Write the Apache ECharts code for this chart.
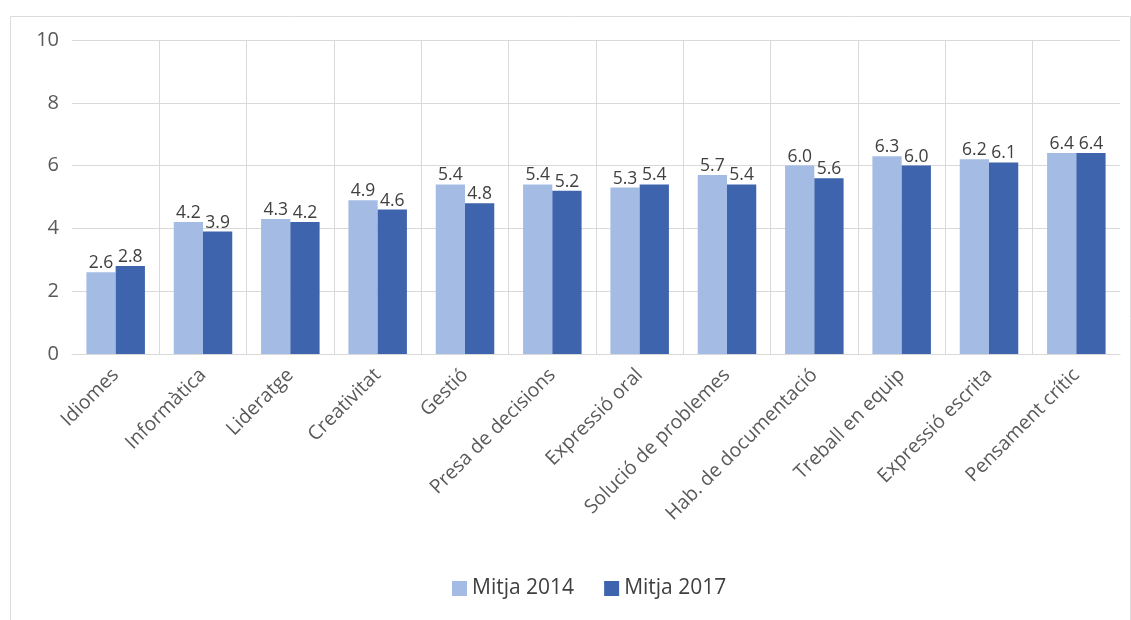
<!DOCTYPE html>
<html>
<head>
<meta charset="utf-8">
<script src="https://cdn.jsdelivr.net/npm/echarts@6/dist/echarts.min.js"></script>
<style>
html,body{margin:0;padding:0;background:#fff;}
#chart{width:1131px;height:620px;}
</style>
</head>
<body>
<div id="chart"></div>
<script>
const categories = ['Idiomes','Informàtica','Lideratge','Creativitat','Gestió','Presa de decisions','Expressió oral','Solució de problemes','Hab. de documentació','Treball en equip','Expressió escrita','Pensament crític'];
const mitja2014 = [2.6, 4.2, 4.3, 4.9, 5.4, 5.4, 5.3, 5.7, 6.0, 6.3, 6.2, 6.4];
const mitja2017 = [2.8, 3.9, 4.2, 4.6, 4.8, 5.2, 5.4, 5.4, 5.6, 6.0, 6.1, 6.4];
const seriesNames = ['Mitja 2014', 'Mitja 2017'];
const yTicks = {min: 0, max: 10, interval: 2};

const FONT = 'Open Sans';
const chart = echarts.init(document.getElementById('chart'));
const labelCfg = {
  show: true, position: 'top', distance: 0,
  color: '#404040', fontFamily: FONT, fontSize: 17.5,
  formatter: p => p.value.toFixed(1)
};
chart.setOption({
  animation: false,
  textStyle: {fontFamily: FONT},
  graphic: [{
    type: 'rect', left: 8, top: 14,
    shape: {width: 1120, height: 604},
    style: {fill: 'none', stroke: '#dcdcdc', lineWidth: 1}
  }],
  grid: {left: 72, right: 11, top: 40, bottom: 266},
  legend: {
    bottom: 16, left: 447,
    itemWidth: 15, itemHeight: 15, itemGap: 30,
    icon: 'rect',
    textStyle: {color: '#404040', fontSize: 21, fontFamily: FONT},
    data: seriesNames
  },
  xAxis: {
    type: 'category', data: categories,
    axisLine: {show: true, lineStyle: {color: '#d9d9d9', width: 1}},
    axisTick: {show: false},
    splitLine: {show: true, showMinLine: false, showMaxLine: false, lineStyle: {color: '#d9d9d9', width: 1}},
    axisLabel: {
      interval: 0, rotate: 45, margin: 18,
      color: '#595959', fontSize: 19.5, fontFamily: FONT
    }
  },
  yAxis: {
    type: 'value', min: yTicks.min, max: yTicks.max, interval: yTicks.interval,
    axisLine: {show: false}, axisTick: {show: false},
    splitLine: {lineStyle: {color: '#d9d9d9', width: 1}},
    axisLabel: {color: '#595959', fontSize: 20, fontFamily: FONT, margin: 13}
  },
  series: [
    {
      name: seriesNames[0], type: 'bar', data: mitja2014,
      barGap: '0%', barCategoryGap: '33%',
      itemStyle: {color: '#a4bce3'},
      label: labelCfg
    },
    {
      name: seriesNames[1], type: 'bar', data: mitja2017,
      barGap: '0%', barCategoryGap: '33%',
      itemStyle: {color: '#3d64ad'},
      label: labelCfg
    }
  ]
});
</script>
</body>
</html>
